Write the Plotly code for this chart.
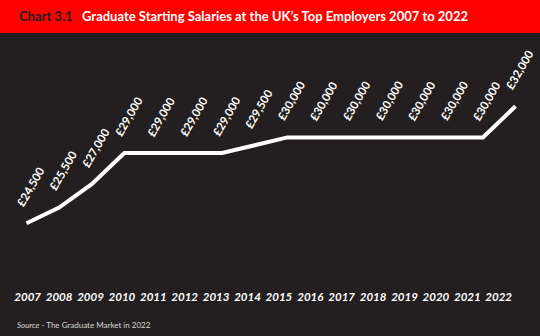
import plotly.graph_objects as go

years = list(range(2007, 2023))
salaries = [24500, 25500, 27000, 29000, 29000, 29000, 29000, 29500,
            30000, 30000, 30000, 30000, 30000, 30000, 30000, 32000]
labels = ["£{:,}".format(v) for v in salaries]
year_labels = [str(y) for y in years]

BG = "#231f20"
RED = "#ff0000"
FONT = "Lato"

fig = go.Figure()
fig.add_trace(go.Scatter(
    x=years, y=salaries, mode="lines",
    line=dict(color="white", width=4), hoverinfo="skip", showlegend=False,
))
# invisible trace on secondary x axis for year labels
fig.add_trace(go.Scatter(
    x=years, y=salaries, xaxis="x2", mode="markers",
    marker=dict(opacity=0), hoverinfo="skip", showlegend=False,
))

for x, y, t in zip(years, salaries, labels):
    fig.add_annotation(
        x=x, y=y, text="<b>" + t + "</b>", showarrow=False,
        textangle=-60, xanchor="center", yanchor="bottom",
        xshift=4, yshift=12,
        font=dict(family=FONT, size=11.5, color="white"),
    )

# header band
fig.add_shape(type="rect", xref="paper", yref="paper",
              x0=-0.01, x1=1.01, y0=(288 - 33) / 248, y1=1.2,
              fillcolor=RED, line=dict(width=0), layer="below")
fig.add_annotation(
    xref="paper", yref="paper", x=17 / 540, y=(288 - 16) / 248,
    xanchor="left", yanchor="middle", showarrow=False,
    text="<b><span style='color:#231f20'>Chart 3.1</span>&nbsp;&nbsp;&nbsp;Graduate Starting Salaries at the UK’s Top Employers 2007 to 2022</b>",
    font=dict(family=FONT, size=13, color="white"),
)
fig.add_annotation(
    xref="paper", yref="paper", x=15 / 540, y=-(325 - 288) / 248,
    xanchor="left", yanchor="middle", showarrow=False,
    text="<i>Source</i> - The Graduate Market in 2022",
    font=dict(family=FONT, size=8, color="#d8d8d8"),
)

px_per_year = 32.6
x0_px = 26.5
xr = [2007 - x0_px / px_per_year, 2007 + (540 - x0_px) / px_per_year]
lab_py = 31.4
lab_x0 = 27.7
xr2 = [2007 - lab_x0 / lab_py, 2007 + (540 - lab_x0) / lab_py]

slope = 0.0156  # px per unit
yr = [29000 - (288 - 153) / slope, 29000 + (153 - 40) / slope]

fig.update_layout(
    width=540, height=336,
    margin=dict(l=0, r=0, t=40, b=48),
    paper_bgcolor=BG, plot_bgcolor=BG,
    xaxis=dict(range=xr, showgrid=False, zeroline=False, showticklabels=False,
               showline=False, ticks=""),
    xaxis2=dict(range=xr2, overlaying="x", side="bottom", showgrid=False,
                zeroline=False, showline=False, ticks="",
                tickmode="array", tickvals=years, ticktext=year_labels,
                tickfont=dict(family=FONT, size=11.5, color="white",
                              weight="bold", style="italic")),
    yaxis=dict(range=yr, showgrid=False, zeroline=False, showticklabels=False,
               showline=False, ticks=""),
)

fig.write_html("out.html")
